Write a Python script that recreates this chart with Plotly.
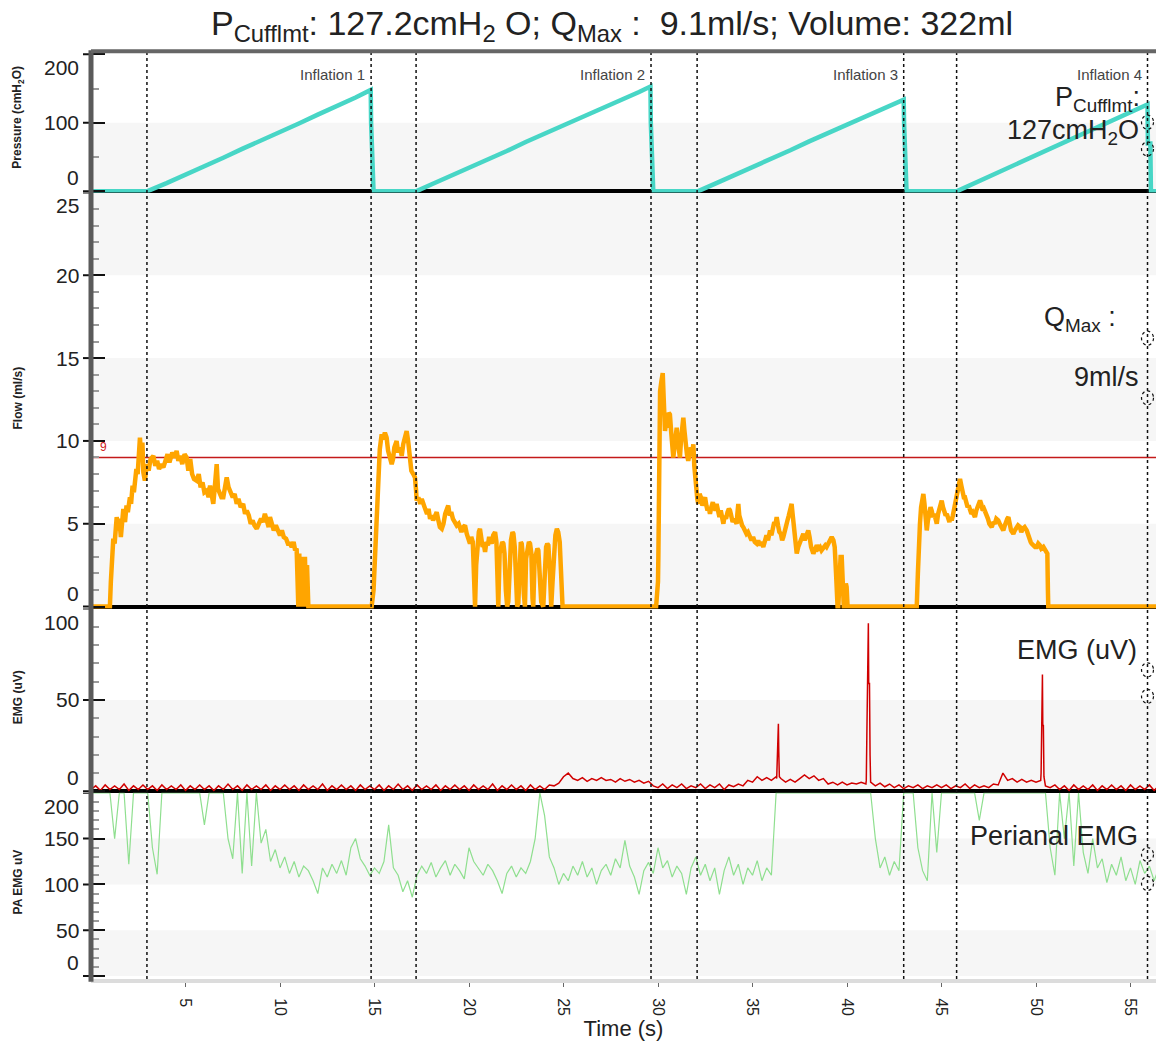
import plotly.graph_objects as go

# ---------------- data ----------------
pressure_points = [
    (0, 0), (2.96, 0), (4, 12), (5, 24), (6, 37), (7, 49), (8, 62), (9, 74), (10, 87), (11, 99),
    (12, 112), (13, 124), (14, 137), (14.8, 148), (14.82, 100), (14.95, 0),
    (17.2, 0), (18, 10), (19, 22), (20, 35), (21, 47), (22, 59), (23, 72), (24, 84), (25, 96),
    (26, 108), (27, 121), (28, 133), (29, 145), (29.6, 153), (29.62, 100), (29.75, 0),
    (32.1, 0), (33, 11), (34, 23), (35, 36), (36, 48), (37, 60), (38, 73), (39, 85), (40, 97),
    (41, 110), (42, 122), (43.0, 134), (43.02, 100), (43.15, 0),
    (45.8, 0), (47, 15), (48, 28), (49, 40), (50, 53), (51, 65), (52, 78), (53, 90), (54, 103),
    (55, 115), (55.9, 127), (55.92, 70), (56.05, 70), (56.08, 0), (56.8, 0),
]

flow_points = [
    (0, 0), (1.0, 0), (1.05, 1.5), (1.12, 3.6), (1.18, 4.1), (1.25, 3.8), (1.3, 5.0), (1.36, 5.4),
    (1.45, 4.6), (1.5, 5.3), (1.58, 4.2), (1.65, 5.6), (1.71, 5.9), (1.8, 5.1), (1.88, 6.1), (1.95, 5.7),
    (2.06, 6.6), (2.12, 6.2), (2.2, 7.3), (2.27, 6.9), (2.33, 7.8), (2.4, 8.3), (2.47, 8.0), (2.53, 9.6),
    (2.59, 10.2), (2.65, 9.1), (2.72, 9.9), (2.77, 8.1), (2.85, 7.6), (2.95, 8.6), (3.05, 8.2), (3.15, 8.9),
    (3.3, 9.1), (3.4, 8.5), (3.5, 8.8), (3.6, 8.3), (3.72, 8.6), (3.83, 8.4), (3.95, 8.9), (4.05, 9.2),
    (4.15, 8.7), (4.3, 9.3), (4.42, 9.0), (4.53, 9.4), (4.62, 8.8), (4.72, 9.1), (4.83, 8.6), (4.95, 9.2),
    (5.06, 9.0), (5.15, 8.2), (5.25, 8.9), (5.35, 8.0), (5.45, 7.7), (5.59, 7.6), (5.7, 8.0), (5.8, 7.2),
    (5.9, 7.5), (6.0, 6.9), (6.12, 7.0), (6.22, 6.6), (6.3, 7.3), (6.4, 6.4), (6.47, 6.2), (6.55, 7.2),
    (6.65, 8.6), (6.72, 7.1), (6.8, 6.8), (6.9, 6.6), (7.0, 6.6), (7.1, 7.5), (7.18, 7.8), (7.28, 7.2),
    (7.38, 6.9), (7.5, 6.6), (7.6, 6.8), (7.71, 6.2), (7.8, 6.5), (7.92, 6.0), (8.05, 6.2), (8.15, 5.6),
    (8.24, 5.8), (8.35, 5.5), (8.45, 5.0), (8.55, 5.2), (8.65, 4.9), (8.77, 4.7), (8.88, 5.0), (9.0, 5.3),
    (9.1, 5.1), (9.2, 5.6), (9.3, 5.2), (9.4, 4.8), (9.47, 5.4), (9.57, 4.9), (9.67, 4.6), (9.78, 4.9),
    (9.9, 4.5), (10.0, 4.3), (10.1, 4.6), (10.2, 4.2), (10.32, 4.1), (10.42, 3.8), (10.53, 3.8), (10.62, 3.6),
    (10.72, 3.9), (10.8, 3.4), (10.88, 3.5), (10.93, 2.0), (10.97, 0), (11.02, 3.2), (11.07, 0.4), (11.12, 3.0),
    (11.17, 0), (11.22, 2.8), (11.27, 0.2), (11.32, 3.0), (11.38, 0), (11.43, 2.5), (11.5, 0), (11.59, 0),
    (14.85, 0), (14.95, 1.0), (15.03, 2.9), (15.1, 4.8), (15.2, 7.7), (15.28, 9.5), (15.38, 10.4), (15.45, 10.1),
    (15.55, 10.5), (15.64, 10.2), (15.72, 9.4), (15.8, 9.0), (15.91, 8.6), (15.98, 8.9), (16.05, 9.6), (16.17, 10.0),
    (16.25, 9.3), (16.35, 9.6), (16.44, 9.1), (16.52, 9.8), (16.6, 10.3), (16.7, 10.6), (16.78, 10.0), (16.88, 8.6),
    (16.95, 8.2), (17.05, 8.0), (17.14, 7.8), (17.2, 7.0), (17.23, 6.4), (17.32, 6.6), (17.42, 6.2), (17.5, 6.5),
    (17.58, 6.1), (17.68, 5.9), (17.78, 5.6), (17.86, 5.9), (17.94, 5.3), (18.02, 5.5), (18.1, 5.2), (18.2, 5.5),
    (18.29, 5.7), (18.38, 5.2), (18.46, 4.8), (18.56, 4.7), (18.65, 5.0), (18.74, 5.6), (18.82, 6.0), (18.9, 6.1),
    (18.98, 5.5), (19.06, 5.7), (19.15, 5.3), (19.26, 5.1), (19.35, 4.9), (19.45, 5.0), (19.52, 4.7), (19.6, 4.5),
    (19.7, 4.8), (19.79, 4.9), (19.88, 4.4), (19.96, 4.1), (20.05, 3.8), (20.12, 4.2), (20.2, 3.9), (20.26, 2.0),
    (20.32, 0), (20.38, 2.5), (20.45, 4.0), (20.52, 4.5), (20.58, 4.7), (20.65, 4.2), (20.72, 3.6), (20.78, 3.8),
    (20.85, 3.3), (20.92, 3.9), (21.0, 3.7), (21.05, 4.1), (21.11, 4.1), (21.2, 3.8), (21.28, 4.3), (21.38, 4.5),
    (21.45, 3.9), (21.5, 2.0), (21.55, 0), (21.62, 3.2), (21.7, 3.5), (21.76, 3.9), (21.82, 3.8), (21.88, 3.2),
    (21.95, 1.0), (22.02, 0), (22.08, 0.3), (22.15, 2.5), (22.22, 4.0), (22.3, 4.5), (22.35, 4.4), (22.42, 3.6),
    (22.48, 1.2), (22.55, 0), (22.61, 0.2), (22.68, 3.5), (22.74, 3.9), (22.79, 3.8), (22.85, 3.0), (22.9, 0.8),
    (22.96, 0), (23.02, 2.9), (23.1, 3.6), (23.17, 3.9), (23.23, 3.8), (23.3, 3.2), (23.36, 0.5), (23.4, 0),
    (23.47, 2.8), (23.55, 3.3), (23.62, 3.5), (23.67, 3.4), (23.74, 2.2), (23.82, 0.3), (23.93, 0), (24.0, 2.6),
    (24.08, 3.6), (24.14, 3.8), (24.2, 3.7), (24.28, 2.1), (24.35, 0), (24.42, 1.5), (24.5, 3.5), (24.57, 4.3),
    (24.65, 4.7), (24.72, 4.5), (24.8, 3.9), (24.88, 2.0), (24.95, 0), (29.9, 0),
    (30.0, 1.5), (30.02, 3.05), (30.06, 8.0), (30.11, 13.0), (30.18, 13.6), (30.25, 14.1), (30.3, 12.6), (30.37, 10.6),
    (30.44, 11.2), (30.5, 10.8), (30.57, 11.7), (30.63, 11.6), (30.7, 10.5), (30.75, 9.8), (30.81, 9.0), (30.87, 9.6),
    (30.93, 10.2), (30.99, 10.8), (31.05, 10.0), (31.1, 9.4), (31.16, 9.0), (31.22, 10.1), (31.28, 10.9), (31.34, 11.4),
    (31.4, 10.6), (31.47, 9.6), (31.53, 9.2), (31.6, 8.8), (31.67, 9.3), (31.74, 9.6), (31.8, 9.2), (31.87, 9.8),
    (31.92, 8.5), (31.96, 7.8), (32.02, 7.0), (32.08, 6.5), (32.13, 6.2), (32.2, 6.8), (32.27, 6.6), (32.35, 6.1),
    (32.42, 6.4), (32.49, 6.6), (32.56, 6.1), (32.62, 5.8), (32.68, 6.0), (32.75, 5.6), (32.82, 6.0), (32.9, 6.3),
    (32.97, 6.0), (33.04, 5.8), (33.1, 6.2), (33.18, 5.7), (33.25, 5.4), (33.32, 5.8), (33.4, 5.2), (33.46, 5.0),
    (33.53, 5.5), (33.6, 5.3), (33.68, 5.7), (33.75, 5.9), (33.81, 5.8), (33.88, 5.4), (33.95, 5.1), (34.02, 5.3),
    (34.1, 5.0), (34.16, 5.0), (34.2, 5.6), (34.25, 6.2), (34.3, 5.5), (34.38, 5.1), (34.45, 4.9), (34.51, 4.8),
    (34.6, 4.6), (34.68, 4.4), (34.76, 4.5), (34.87, 4.2), (34.95, 4.0), (35.03, 4.2), (35.12, 3.9), (35.22, 3.8),
    (35.3, 4.0), (35.38, 3.7), (35.47, 3.9), (35.57, 3.6), (35.65, 3.9), (35.74, 4.3), (35.82, 4.0), (35.93, 4.6),
    (36.0, 4.3), (36.08, 4.8), (36.15, 5.1), (36.22, 5.0), (36.28, 5.4), (36.35, 4.9), (36.42, 4.5), (36.5, 4.4),
    (36.57, 4.0), (36.63, 4.2), (36.7, 4.6), (36.78, 4.9), (36.85, 5.2), (36.92, 5.5), (37.0, 5.8), (37.07, 6.2),
    (37.12, 5.6), (37.18, 4.8), (37.25, 4.0), (37.34, 3.2), (37.42, 3.6), (37.5, 3.9), (37.58, 4.1), (37.69, 4.4),
    (37.76, 4.0), (37.85, 4.3), (37.95, 4.6), (38.02, 4.2), (38.1, 3.6), (38.22, 3.2), (38.3, 3.4), (38.4, 3.7),
    (38.48, 3.5), (38.57, 3.6), (38.65, 3.4), (38.75, 3.6), (38.85, 3.7), (38.92, 3.6), (39.0, 3.8), (39.1, 4.0),
    (39.19, 4.2), (39.28, 4.0), (39.35, 3.6), (39.42, 2.0), (39.45, 0.5), (39.5, 0), (39.54, 0), (39.6, 2.5),
    (39.66, 3.0), (39.72, 3.0), (39.78, 1.5), (39.83, 0), (39.89, 0), (39.94, 1.4), (39.98, 1.2), (40.03, 0),
    (43.69, 0), (43.75, 2.0), (43.8, 4.6), (43.86, 5.0), (43.92, 6.0), (43.98, 6.5), (44.04, 6.8), (44.1, 6.2),
    (44.16, 5.2), (44.22, 4.6), (44.28, 5.2), (44.35, 5.6), (44.42, 6.0), (44.48, 5.8), (44.55, 5.4), (44.62, 5.6),
    (44.68, 5.3), (44.75, 5.0), (44.82, 5.6), (44.9, 6.0), (44.96, 6.2), (45.01, 6.4), (45.08, 6.0), (45.15, 5.8),
    (45.22, 5.5), (45.28, 5.6), (45.35, 5.3), (45.42, 5.1), (45.48, 5.4), (45.54, 5.2), (45.6, 5.5), (45.66, 5.9),
    (45.71, 6.2), (45.78, 6.6), (45.85, 7.2), (45.92, 7.5), (45.98, 7.7), (46.05, 7.3), (46.12, 6.9), (46.18, 6.6),
    (46.24, 6.6), (46.3, 6.3), (46.38, 6.0), (46.44, 6.1), (46.51, 5.8), (46.58, 5.6), (46.65, 5.7), (46.72, 5.5),
    (46.77, 5.4), (46.84, 5.8), (46.92, 6.1), (46.98, 6.3), (47.04, 6.4), (47.1, 6.2), (47.18, 5.8), (47.25, 5.9),
    (47.32, 5.7), (47.39, 5.6), (47.46, 5.3), (47.53, 5.0), (47.6, 4.9), (47.66, 4.8), (47.74, 5.1), (47.82, 5.0),
    (47.9, 5.3), (48.0, 5.2), (48.08, 5.0), (48.15, 4.8), (48.22, 4.6), (48.27, 4.6), (48.35, 4.9), (48.42, 5.2),
    (48.48, 5.3), (48.54, 5.4), (48.6, 5.0), (48.68, 4.6), (48.74, 4.5), (48.8, 4.4), (48.88, 4.6), (48.96, 4.7),
    (49.05, 4.9), (49.15, 4.8), (49.22, 4.5), (49.3, 4.7), (49.4, 4.8), (49.51, 4.6), (49.58, 4.3), (49.65, 4.1),
    (49.72, 3.9), (49.77, 3.8), (49.85, 3.7), (49.95, 3.6), (50.04, 3.6), (50.12, 3.8), (50.2, 3.7), (50.28, 3.5),
    (50.39, 3.6), (50.48, 3.4), (50.55, 3.3), (50.6, 3.2), (50.63, 1.0), (50.65, 0), (56.8, 0),
]

emg_sample_interval = 0.25  # seconds between EMG samples
emg_uv = [
    1, 3, 0.5, 3.5, 1, 3, 1, 4, 0.5, 3, 1, 3.5, 1, 3, 0.5, 3.5, 1, 3, 1, 3.5,
    0.5, 3, 1, 3.5, 1, 3, 0.5, 3, 1, 4, 1, 3, 0.5, 3.5, 1, 3, 1, 3.5, 0.5, 3,
    1, 3.5, 1, 3, 0.5, 3.5, 1, 3, 1, 4, 0.5, 3, 1, 3.5, 1, 3, 0.5, 3.5, 1, 3,
    1, 3.5, 0.5, 3, 1, 4, 1, 3, 0.5, 3.5, 1, 3, 1, 3.5, 0.5, 3, 1, 3.5, 1, 3,
    0.5, 3.5, 1, 3, 1, 4, 0.5, 3, 1, 3.5, 1, 3, 0.5, 3.5, 1, 3, 1, 3.5, 3, 4.5,
    8, 10, 7, 6, 7.5, 5.5, 7, 6, 7.5, 6, 6.5, 5, 7, 5.5, 6.5, 5, 6, 4.5, 5.5, 3,
    2, 4, 1.5, 3.5, 2, 4, 1.5, 3, 2, 4, 1.5, 3.5, 2, 4, 1, 3.5, 2.5, 4, 3, 6,
    5, 8, 6, 7.5, 6, 8, 7, 5, 6.5, 5, 7, 9, 7, 8.5, 6, 7, 4, 5, 3.5, 5,
    3.5, 4.5, 4, 5, 4, 5, 3, 4.5, 2.5, 4, 2, 3.5, 1.5, 3, 2, 3.5, 1.5, 3, 2, 3.5,
    2, 3.5, 1.5, 3, 2, 4, 1.5, 3.5, 2, 3, 2, 4, 3.5, 10, 6, 7, 5, 6.5, 5, 6,
    5, 6, 3, 2, 3.5, 1, 3, 0.5, 3.5, 1, 3, 1, 3.5, 0.5, 3, 1, 3.5, 1, 3, 0.5,
    3.5, 1, 3, 1, 3.5, 0.5, 3, 1,
]
emg_spikes = [
    (36.28, 7), (36.31, 22), (36.33, 37), (36.37, 37), (36.39, 22), (36.42, 8),
    (41.02, 6), (41.05, 30), (41.08, 59), (41.10, 92), (41.13, 92), (41.15, 59), (41.19, 59), (41.22, 20), (41.24, 6),
    (50.27, 10), (50.29, 36), (50.31, 64), (50.34, 64), (50.36, 36), (50.39, 36), (50.42, 8),
]

pa_sample_interval = 0.25
pa_emg_uv = [
    200, 200, 200, 200, 200, 150, 200, 200, 122, 200, 200, 200, 200, 140, 111, 200, 200, 200, 200, 200,
    200, 200, 200, 200, 165, 200, 200, 200, 200, 150, 128, 200, 112, 200, 120, 200, 145, 160, 125, 138,
    118, 130, 112, 125, 108, 120, 115, 104, 90, 118, 108, 122, 112, 126, 110, 140, 150, 128, 120, 110,
    118, 112, 125, 165, 118, 110, 92, 104, 86, 110, 120, 112, 124, 108, 118, 126, 110, 122, 115, 106,
    140, 125, 118, 110, 122, 115, 104, 90, 112, 120, 108, 118, 112, 125, 150, 200, 175, 130, 118, 100,
    112, 104, 120, 110, 125, 108, 118, 100, 115, 122, 110, 128, 118, 148, 120, 108, 89, 115, 124, 112,
    140, 118, 126, 108, 120, 112, 89, 118, 130, 110, 122, 104, 118, 89, 115, 130, 110, 122, 100, 118,
    110, 126, 104, 118, 110, 200, 200, 200, 200, 200, 200, 200, 200, 200, 200, 200, 200, 200, 200, 200,
    200, 200, 200, 200, 200, 200, 150, 118, 130, 110, 125, 115, 200, 200, 200, 140, 115, 104, 200, 135,
    200, 200, 200, 200, 200, 200, 200, 200, 170, 200, 200, 200, 200, 200, 200, 200, 200, 200, 200, 200,
    200, 200, 200, 140, 110, 200, 150, 200, 120, 200, 135, 112, 150, 118, 128, 102, 122, 110, 130, 104,
    118, 100, 126, 112, 120, 104, 118, 110,
]

event_times = [2.96, 14.82, 17.2, 29.63, 32.07, 43.0, 45.8, 55.9]
inflation_labels = ["Inflation 1", "Inflation 2", "Inflation 3", "Inflation 4"]
inflation_end_times = [14.82, 29.63, 43.0, 55.9]
flow_threshold = 9
cursor_time = 55.9
cursor_marks = {"y": [101, 62], "y2": [16.2, 12.6], "y3": [66.5, 52], "y4": [132.6, 101]}

pressure_ticks = [0, 100, 200]
flow_ticks = [0, 5, 10, 15, 20, 25]
emg_ticks = [0, 50, 100]
pa_ticks = [0, 50, 100, 150, 200]
time_ticks = [5, 10, 15, 20, 25, 30, 35, 40, 45, 50, 55]

# ---------------- layout geometry ----------------
# the page body adds an 8 px margin; size the figure so the page fits the window
OFF = 8
W, H = 1164 - 2 * OFF, 1049 - 2 * OFF
ML, MT, MB = 91 - OFF, 53 - OFF, 58
PH = H - MT - MB
PW = W - ML
PX_PER_S = 18.9


def fy(py):  # screen pixel y -> paper fraction
    return (H - MB - (py - OFF)) / PH


def fx(px):  # screen pixel x -> paper fraction
    return (px - OFF - ML) / PW


TICKFONT = "Liberation Sans Narrow, Liberation Sans, Arial, sans-serif"
FONT = "Liberation Sans, Arial, sans-serif"

pt = [p[0] for p in pressure_points]
pv = [p[1] for p in pressure_points]
ft = [p[0] for p in flow_points]
fv = [p[1] for p in flow_points]
emg_all = sorted([(i * emg_sample_interval, v) for i, v in enumerate(emg_uv)] + emg_spikes)
et = [p[0] for p in emg_all]
ev = [p[1] for p in emg_all]
pat = [i * pa_sample_interval for i in range(len(pa_emg_uv))]

fig = go.Figure()
fig.add_trace(go.Scatter(x=pat, y=pa_emg_uv, xaxis="x", yaxis="y4", mode="lines",
                         line=dict(color="#8fdf8f", width=1.2), showlegend=False))
fig.add_trace(go.Scatter(x=et, y=ev, xaxis="x", yaxis="y3", mode="lines",
                         line=dict(color="#d00000", width=1.5), showlegend=False))
fig.add_trace(go.Scatter(x=ft, y=fv, xaxis="x", yaxis="y2", mode="lines",
                         line=dict(color="#ffa500", width=4.5), showlegend=False))
fig.add_trace(go.Scatter(x=pt, y=pv, xaxis="x", yaxis="y", mode="lines",
                         line=dict(color="#48d6c6", width=4.5), showlegend=False))

shapes = []
bands = [("y", 0, 100), ("y2", 0, 5), ("y2", 10, 15), ("y2", 20, 25),
         ("y3", 0, 50), ("y4", 0, 50), ("y4", 100, 150)]
for ax, a, b in bands:
    shapes.append(dict(type="rect", xref="paper", yref=ax, x0=0, x1=1, y0=a, y1=b,
                       fillcolor="#f6f6f6", line=dict(width=0), layer="below"))
shapes.append(dict(type="line", xref="paper", yref="y2", x0=0, x1=1, y0=flow_threshold, y1=flow_threshold,
                   line=dict(color="#c41a1a", width=1.5), layer="below"))
for t in event_times:
    shapes.append(dict(type="line", xref="x", yref="paper", x0=t, x1=t, y0=0, y1=1,
                       line=dict(color="#111", width=1.5, dash="dot"), layer="above"))
for ax, vals in cursor_marks.items():
    for v in vals:
        shapes.append(dict(type="circle", xref="x", yref=ax, xsizemode="pixel", ysizemode="pixel",
                           xanchor=cursor_time, yanchor=v, x0=-6, x1=6, y0=-7, y1=7,
                           line=dict(color="#111", width=1.2, dash="dot"), layer="above"))
# short outer stubs of the major ticks (the inner part is drawn by the axes)
for ax, vals in [("y", pressure_ticks), ("y2", flow_ticks), ("y3", emg_ticks), ("y4", pa_ticks)]:
    for v in vals:
        shapes.append(dict(type="line", xref="paper", yref=ax, x0=-8 / PW, x1=0, y0=v, y1=v,
                           line=dict(color="#111", width=2), layer="above"))
shapes.append(dict(type="line", xref="paper", yref="paper", x0=0, x1=0, y0=-0.003, y1=1.003,
                   line=dict(color="#5a5a5a", width=5), layer="above"))
shapes.append(dict(type="line", xref="paper", yref="paper", x0=0, x1=1, y0=1.002, y1=1.002,
                   line=dict(color="#666", width=4), layer="above"))

annotations = []


def tick_labels(ax, vals, top, bottom):
    for v in vals:
        if v == top:
            anchor = "top"
        elif v == bottom:
            anchor = "bottom"
        else:
            anchor = "middle"
        annotations.append(dict(text=str(v), xref="paper", yref=ax, x=0, y=v, xanchor="right",
                                yanchor=anchor, xshift=-10, yshift=0, showarrow=False,
                                font=dict(family=TICKFONT, size=21, color="#222")))


tick_labels("y", pressure_ticks, 200, 0)
tick_labels("y2", flow_ticks, 25, 0)
tick_labels("y3", emg_ticks, 100, 0)
tick_labels("y4", pa_ticks, 200, 0)

for txt, py in [("Pressure (cmH<sub>2</sub>O)", 118), ("Flow (ml/s)", 400),
                ("EMG (uV)", 700), ("PA EMG uV", 886)]:
    annotations.append(dict(text="<b>" + txt + "</b>", xref="paper", yref="paper", x=fx(18), y=fy(py),
                            textangle=-90, showarrow=False, xanchor="center", yanchor="middle",
                            font=dict(family=FONT, size=12, color="#222")))

for lab, t in zip(inflation_labels, inflation_end_times):
    annotations.append(dict(text=lab, xref="x", yref="paper", x=t, y=fy(75), xanchor="right",
                            yanchor="middle", xshift=-4, showarrow=False,
                            font=dict(family=FONT, size=15, color="#444")))

annotations.append(dict(text=str(flow_threshold), xref="paper", yref="y2", x=0, y=flow_threshold,
                        xanchor="left", yanchor="bottom", xshift=7, yshift=1, showarrow=False,
                        font=dict(family=FONT, size=12, color="#d02020")))

BIG = 27
for txt, px, py in [("P<sub>Cufflmt</sub>:", 1142, 99), ("127cmH<sub>2</sub>O", 1141, 132),
                    ("Q<sub>Max</sub> :", 1118, 320), ("9ml/s", 1141, 378),
                    ("EMG (uV)", 1139, 653), ("Perianal EMG", 1140, 839)]:
    annotations.append(dict(text=txt, xref="paper", yref="paper", x=fx(px), y=fy(py),
                            xanchor="right", yanchor="middle", showarrow=False,
                            font=dict(family=FONT, size=BIG, color="#222")))

yax_common = dict(anchor="x", showgrid=False, showticklabels=False, showline=False,
                  ticks="inside", ticklen=14, tickwidth=2, tickcolor="#111", tick0=0,
                  zerolinecolor="#000", zerolinewidth=3.5, fixedrange=True)
minor_common = dict(ticks="inside", ticklen=8, tickwidth=1.5, tickcolor="#9a9a9a", showgrid=False)

fig.update_layout(
    width=W, height=H,
    margin=dict(l=ML, r=0, t=MT, b=MB, pad=0),
    paper_bgcolor="white", plot_bgcolor="white",
    showlegend=False,
    font=dict(family=FONT, color="#222"),
    title=dict(text="P<sub>Cufflmt</sub>: 127.2cmH<sub>2</sub> O; Q<sub>Max</sub> :  9.1ml/s; Volume: 322ml",
               x=(612 - OFF) / W, xanchor="center", y=1 - 3 / H, yanchor="top",
               yref="container", pad=dict(t=0, b=0),
               font=dict(family=FONT, size=34, color="#222")),
    xaxis=dict(anchor="y4", domain=[0, 1], range=[0, PW / PX_PER_S], showgrid=False, zeroline=False,
               tickmode="array", tickvals=time_ticks, ticktext=[str(v) for v in time_ticks],
               ticks="outside", ticklen=4, tickcolor="#666", tickangle=90, ticklabelstandoff=8,
               tickfont=dict(family=FONT, size=16, color="#222"),
               showline=True, linecolor="#dcdcdc", linewidth=4,
               title=dict(text="Time (s)", font=dict(family=FONT, size=22, color="#222"), standoff=10)),
    yaxis=dict(domain=[fy(193), 1], range=[-1.5, 202], dtick=100, zeroline=True,
               minor=dict(dtick=50, **minor_common), **yax_common),
    yaxis2=dict(domain=[fy(611), fy(193)], range=[-0.12, 25], dtick=5, zeroline=True,
                minor=dict(dtick=1, **minor_common), **yax_common),
    yaxis3=dict(domain=[fy(796), fy(611)], range=[-0.8, 100], dtick=50, zeroline=True,
                minor=dict(dtick=10, **minor_common), **yax_common),
    yaxis4=dict(domain=[0, fy(796)], range=[-3.3, 200], dtick=50, zeroline=False,
                minor=dict(dtick=10, **minor_common), **yax_common),
    shapes=shapes,
    annotations=annotations,
)

fig.write_html("out.html")
